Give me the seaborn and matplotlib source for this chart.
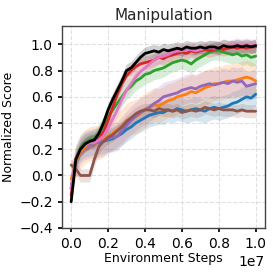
import numpy as np
import pandas as pd
import matplotlib
matplotlib.use("Agg")
import matplotlib.pyplot as plt
import seaborn as sns

# environment steps (41 evaluation points from 0 to 1e7)
steps = np.linspace(0, 1e7, 41)

blue = [-0.10, 0.12, 0.20, 0.23, 0.24, 0.25, 0.25, 0.26, 0.27, 0.28, 0.30, 0.32, 0.35, 0.37,
        0.40, 0.42, 0.44, 0.46, 0.47, 0.48, 0.48, 0.50, 0.49, 0.51, 0.50, 0.49, 0.50, 0.51,
        0.50, 0.49, 0.51, 0.52, 0.51, 0.52, 0.53, 0.55, 0.56, 0.58, 0.60, 0.59, 0.62]
orange = [-0.03, 0.10, 0.18, 0.22, 0.24, 0.25, 0.25, 0.27, 0.30, 0.32, 0.35, 0.38, 0.42, 0.44,
          0.45, 0.47, 0.50, 0.52, 0.54, 0.53, 0.55, 0.57, 0.58, 0.60, 0.61, 0.62, 0.64, 0.63,
          0.65, 0.67, 0.68, 0.70, 0.70, 0.71, 0.72, 0.72, 0.73, 0.74, 0.75, 0.74, 0.72]
green = [-0.10, 0.13, 0.21, 0.25, 0.27, 0.28, 0.32, 0.38, 0.45, 0.50, 0.55, 0.60, 0.65, 0.68,
         0.72, 0.74, 0.77, 0.78, 0.80, 0.81, 0.82, 0.84, 0.86, 0.87, 0.88, 0.87, 0.85, 0.88,
         0.90, 0.92, 0.94, 0.95, 0.95, 0.94, 0.93, 0.92, 0.93, 0.91, 0.92, 0.90, 0.91]
red = [-0.15, 0.12, 0.20, 0.23, 0.25, 0.26, 0.28, 0.33, 0.42, 0.52, 0.62, 0.70, 0.76, 0.80,
       0.83, 0.85, 0.86, 0.87, 0.88, 0.90, 0.89, 0.91, 0.92, 0.93, 0.94, 0.93, 0.95, 0.94,
       0.95, 0.96, 0.95, 0.96, 0.97, 0.96, 0.97, 0.98, 0.97, 0.98, 0.97, 0.98, 0.98]
purple = [-0.10, 0.12, 0.20, 0.23, 0.24, 0.25, 0.25, 0.26, 0.28, 0.29, 0.30, 0.34, 0.38, 0.42,
          0.45, 0.48, 0.50, 0.52, 0.55, 0.57, 0.60, 0.61, 0.62, 0.63, 0.65, 0.66, 0.67, 0.66,
          0.68, 0.69, 0.70, 0.69, 0.70, 0.71, 0.70, 0.72, 0.71, 0.72, 0.68, 0.69, 0.70]
brown = [0.08, 0.05, 0.00, 0.00, 0.00, 0.12, 0.22, 0.26, 0.29, 0.31, 0.34, 0.37, 0.41, 0.44,
         0.47, 0.49, 0.50, 0.50, 0.49, 0.51, 0.50, 0.50, 0.49, 0.50, 0.48, 0.49, 0.50, 0.49,
         0.50, 0.52, 0.51, 0.50, 0.51, 0.50, 0.50, 0.50, 0.49, 0.50, 0.49, 0.49, 0.49]
pink = [-0.10, 0.12, 0.20, 0.23, 0.25, 0.25, 0.27, 0.30, 0.36, 0.43, 0.50, 0.58, 0.65, 0.70,
        0.75, 0.79, 0.82, 0.85, 0.88, 0.90, 0.91, 0.92, 0.94, 0.95, 0.95, 0.96, 0.96, 0.95,
        0.96, 0.97, 0.98, 0.97, 0.98, 0.99, 0.98, 0.99, 1.00, 0.99, 1.00, 0.99, 0.99]
black = [-0.20, 0.12, 0.20, 0.24, 0.26, 0.27, 0.32, 0.40, 0.50, 0.58, 0.65, 0.72, 0.80, 0.82,
         0.86, 0.90, 0.93, 0.94, 0.95, 0.94, 0.96, 0.95, 0.96, 0.97, 0.96, 0.98, 0.97, 0.97,
         0.98, 0.97, 0.98, 0.98, 0.97, 0.99, 0.98, 0.98, 0.99, 0.98, 0.99, 0.98, 0.99]

series = [blue, orange, green, red, purple, brown, pink, black]
colors = ["tab:blue", "tab:orange", "tab:green", "tab:red", "tab:purple", "tab:brown", "tab:pink", "black"]
# half width of the shaded band for each run
spread = [0.09, 0.13, 0.07, 0.05, 0.11, 0.05, 0.05, 0.05]

xticks = [0, 0.2e7, 0.4e7, 0.6e7, 0.8e7, 1.0e7]
yticks = [-0.4, -0.2, 0.0, 0.2, 0.4, 0.6, 0.8, 1.0]

sns.set_theme(style="whitegrid", rc={
    "grid.linestyle": "--", "grid.color": "#e0e0e0", "grid.linewidth": 0.8,
    "axes.edgecolor": "#444444", "axes.linewidth": 1.0,
    "xtick.bottom": True, "ytick.left": True,
    "xtick.major.size": 3, "ytick.major.size": 3,
    "font.size": 10, "axes.labelsize": 9, "axes.titlesize": 11,
    "xtick.labelsize": 10, "ytick.labelsize": 10,
    "xtick.color": "black", "ytick.color": "black", "axes.labelcolor": "black",
})
plt.rcParams['font.family'] = ['DejaVu Sans']

fig = plt.figure(figsize=(2.74, 2.73), dpi=100)
ax = fig.add_axes([0.226, 0.165, 0.741, 0.74])

for vals, c, s in zip(series, colors, spread):
    y = np.array(vals)
    ax.fill_between(steps, y - s, y + s, color=c, alpha=0.18, linewidth=0)
    sns.lineplot(x=steps, y=y, color=c, linewidth=2.0, ax=ax)

ax.set_ylim(-0.4, 1.14)
ax.set_xticks(xticks)
ax.set_yticks(yticks)
ax.set_xlabel("Environment Steps", labelpad=1)
ax.set_ylabel("Normalized Score", labelpad=3)
ax.set_title("Manipulation", pad=4)

fig.savefig("out.png", dpi=100)
